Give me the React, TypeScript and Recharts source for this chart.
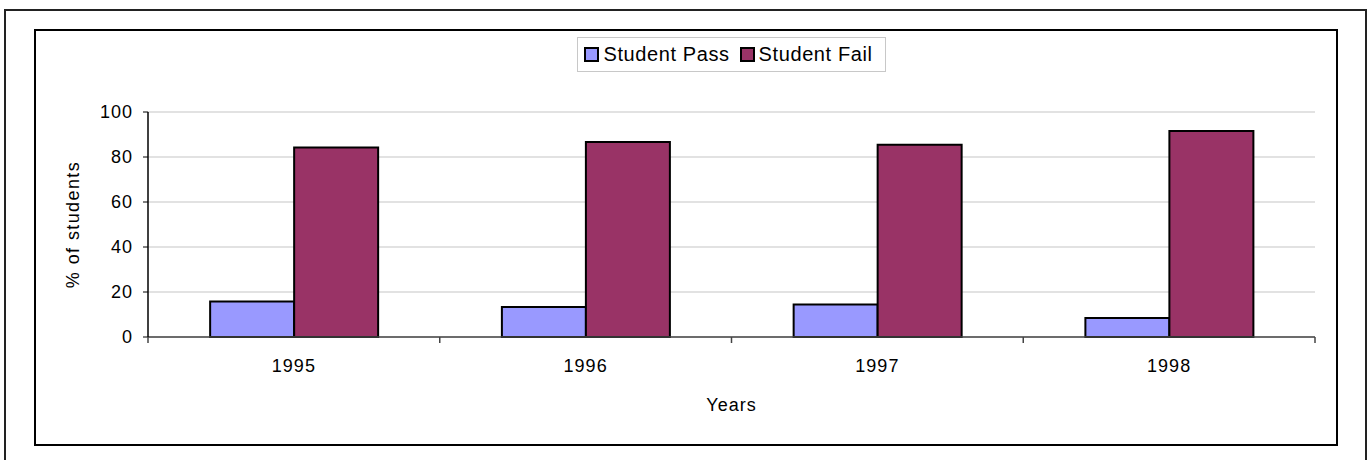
import { BarChart, Bar, XAxis, YAxis, CartesianGrid, Legend } from 'recharts'

const years = ['1995', '1996', '1997', '1998']
const studentPass = [15.8, 13.3, 14.5, 8.4]
const studentFail = [84.2, 86.7, 85.5, 91.6]
const yTicks = [0, 20, 40, 60, 80, 100]

const W = 1367
const H = 460
const MARGIN = { top: 112, right: 52, bottom: 43, left: 50 }
const Y_AXIS_W = 98
const X_AXIS_H = 80
const PLOT_X = MARGIN.left + Y_AXIS_W
const PLOT_W = W - PLOT_X - MARGIN.right
const AXIS_Y = H - MARGIN.bottom - X_AXIS_H
const BAND = PLOT_W / years.length

const FONT = '"Liberation Sans", Arial, sans-serif'
const PASS = '#9999FF'
const FAIL = '#993366'

const data = years.map((year, i) => ({ year, pass: studentPass[i], fail: studentFail[i] }))

function YearTick({ payload, index }: any) {
  const x = payload.coordinate
  const half = BAND / 2
  return (
    <g>
      <text x={x} y={AXIS_Y + 35} textAnchor="middle" fontFamily={FONT} fontSize={18} letterSpacing={1} fill="#000">
        {payload.value}
      </text>
      {index === 0 && <line x1={x - half} x2={x - half} y1={AXIS_Y} y2={AXIS_Y + 6} stroke="#444" strokeWidth={1.5} />}
      <line x1={x + half} x2={x + half} y1={AXIS_Y} y2={AXIS_Y + 6} stroke="#444" strokeWidth={1.5} />
    </g>
  )
}

function LegendBox() {
  const items = [
    { label: 'Student Pass', color: PASS },
    { label: 'Student Fail', color: FAIL },
  ]
  return (
    <div style={{ display: 'flex', justifyContent: 'center' }}>
      <div style={{
        display: 'flex', alignItems: 'center', height: 35, boxSizing: 'border-box',
        border: '1px solid #c8c8c8', padding: '0 12px 0 6px', background: '#fff',
        fontFamily: FONT, fontSize: 20, letterSpacing: 0.6, color: '#000',
      }}>
        {items.map((it, i) => (
          <div key={it.label} style={{ display: 'flex', alignItems: 'center', marginLeft: i ? 10 : 0 }}>
            <span style={{
              display: 'inline-block', width: 15, height: 15, boxSizing: 'border-box',
              background: it.color, border: '2px solid #000', marginRight: 4,
            }} />
            <span>{it.label}</span>
          </div>
        ))}
      </div>
    </div>
  )
}

export default function App() {
  return (
    <div style={{ position: 'absolute', left: 0, top: 0, width: W, height: H, overflow: 'hidden', background: '#fff' }}>
      <div style={{
        position: 'absolute', left: 4, top: 9, width: 1363, height: 520, boxSizing: 'border-box',
        border: '2px solid #222',
      }} />
      <div style={{
        position: 'absolute', left: 34, top: 29, width: 1304, height: 417, boxSizing: 'border-box',
        border: '2px solid #000',
      }} />
      <div style={{ position: 'absolute', left: 0, top: 0 }}>
        <BarChart width={W} height={H} data={data} margin={MARGIN} barCategoryGap="21.3%" barGap={0}>
          <CartesianGrid vertical={false} stroke="#d9d9d9" strokeWidth={1.5} />
          <XAxis
            dataKey="year"
            height={X_AXIS_H}
            axisLine={{ stroke: '#444', strokeWidth: 1.5 }}
            tickLine={false}
            tick={<YearTick />}
            interval={0}
            label={{ value: 'Years', position: 'insideBottom', offset: 6, fontFamily: FONT, fontSize: 18, letterSpacing: 1, fill: '#000' }}
          />
          <XAxis xAxisId="top" dataKey="year" orientation="top" height={0} tick={false} tickLine={false} axisLine={{ stroke: '#888', strokeWidth: 1.5 }} />
          <YAxis
            domain={[0, 100]}
            ticks={yTicks}
            width={Y_AXIS_W}
            axisLine={{ stroke: '#000', strokeWidth: 1.5 }}
            tickLine={{ stroke: '#000' }}
            tickSize={5}
            tickMargin={10}
            tick={{ fontFamily: FONT, fontSize: 18, letterSpacing: 1, fill: '#000' }}
            label={{
              value: '% of students', angle: -90, position: 'insideLeft', offset: 23, textAnchor: 'middle',
              style: { textAnchor: 'middle' }, fontFamily: FONT, fontSize: 18, letterSpacing: 1.4, fill: '#000',
            }}
          />
          <YAxis yAxisId="right" orientation="right" domain={[0, 100]} width={0} tick={false} tickLine={false} axisLine={{ stroke: '#888', strokeWidth: 1.5 }} />
          <Legend
            layout="horizontal"
            verticalAlign="middle"
            align="center"
            wrapperStyle={{ top: 37, left: PLOT_X, width: PLOT_W }}
            content={<LegendBox />}
          />
          <Bar dataKey="pass" name="Student Pass" fill={PASS} stroke="#000" strokeWidth={2} isAnimationActive={false} />
          <Bar dataKey="fail" name="Student Fail" fill={FAIL} stroke="#000" strokeWidth={2} isAnimationActive={false} />
        </BarChart>
      </div>
    </div>
  )
}
